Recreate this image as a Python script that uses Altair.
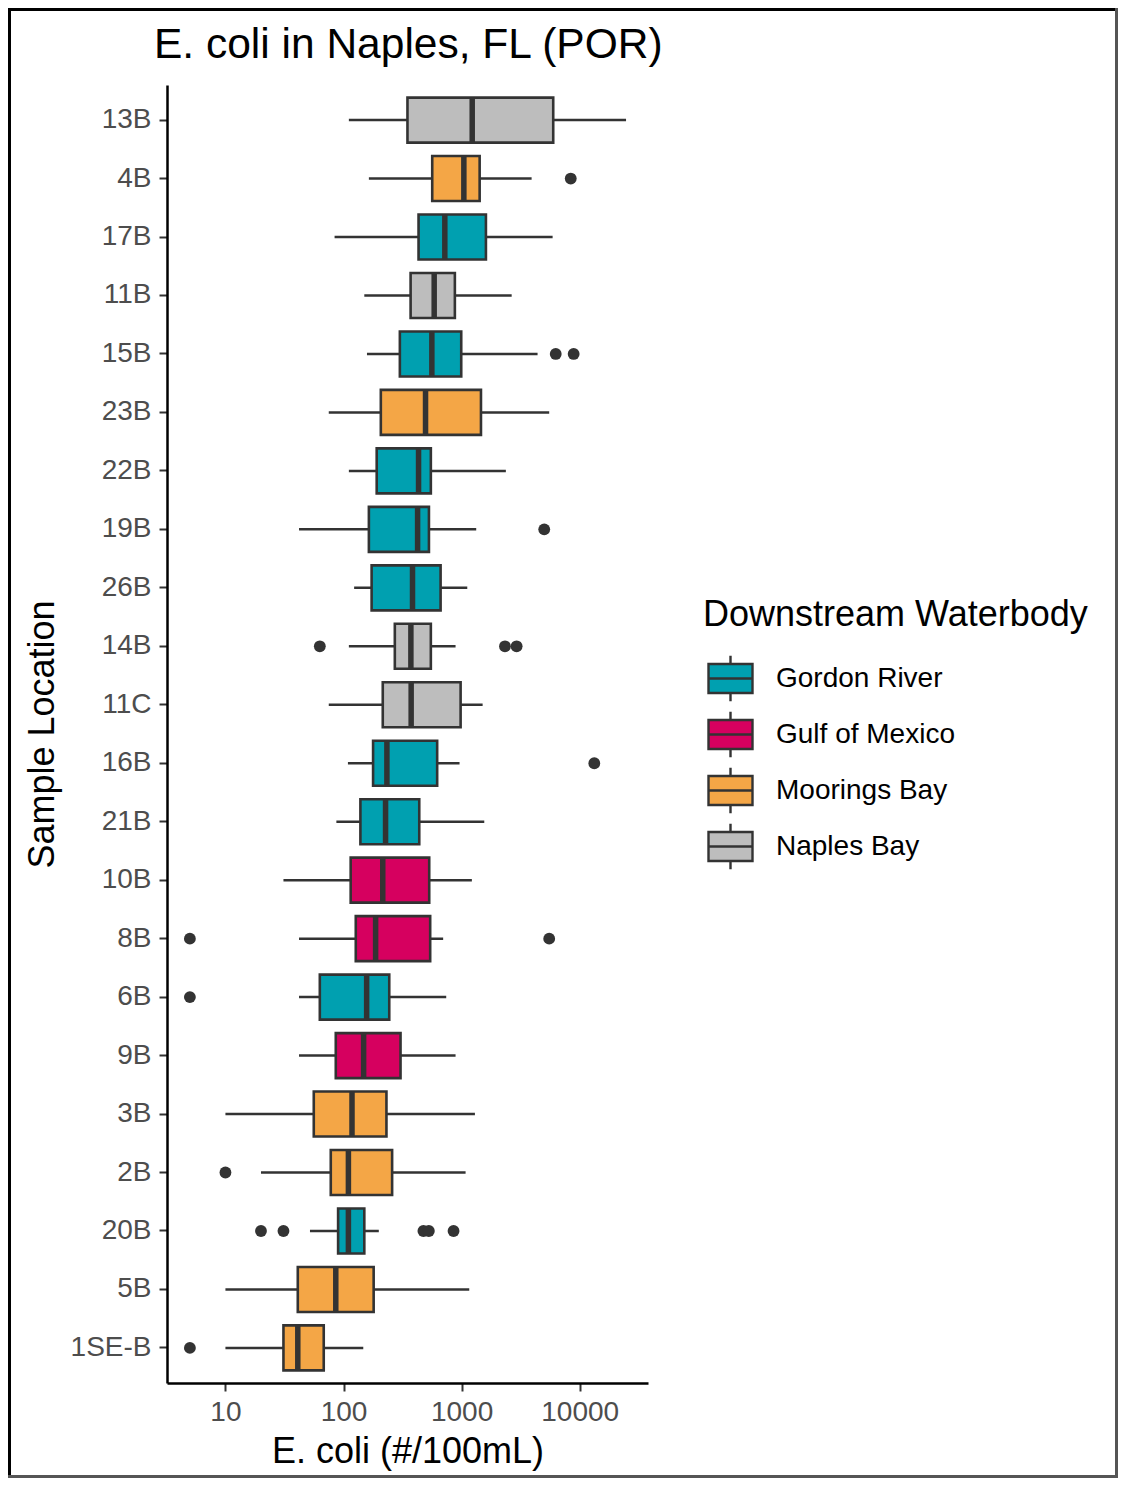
import altair as alt
import pandas as pd

# ---------------- data ----------------
locations = ["13B", "4B", "17B", "11B", "15B", "23B", "22B", "19B", "26B", "14B", "11C",
             "16B", "21B", "10B", "8B", "6B", "9B", "3B", "2B", "20B", "5B", "1SE-B"]
waterbody = ["Naples Bay", "Moorings Bay", "Gordon River", "Naples Bay", "Gordon River",
             "Moorings Bay", "Gordon River", "Gordon River", "Gordon River", "Naples Bay",
             "Naples Bay", "Gordon River", "Gordon River", "Gulf of Mexico", "Gulf of Mexico",
             "Gordon River", "Gulf of Mexico", "Moorings Bay", "Moorings Bay", "Gordon River",
             "Moorings Bay", "Moorings Bay"]
whisker_low = [111, 164, 84, 150, 158, 75, 111, 42, 123, 111, 75,
               109, 87, 31, 42, 42, 42, 10, 20, 52, 10, 10]
q1 = [348, 564, 432, 370, 300, 207, 191, 164, 173, 272, 215,
      178, 139, 115, 127, 63, 86, 56, 78, 90, 41, 31]
median = [1230, 1045, 721, 586, 560, 495, 432, 424, 384, 372, 374,
          233, 227, 215, 187, 157, 148, 118, 110, 110, 86, 41]
q3 = [5970, 1422, 1607, 877, 993, 1459, 549, 529, 664, 549, 981,
      621, 438, 532, 542, 244, 304, 231, 258, 150, 180, 68]
whisker_high = [24700, 3917, 5900, 2655, 4400, 5520, 2371, 1330, 1117, 889, 1507,
                961, 1556, 1222, 698, 741, 889, 1297, 1081, 199, 1161, 147]

outlier_loc = ["4B", "15B", "15B", "19B", "14B", "14B", "14B", "16B", "8B", "8B", "6B",
               "2B", "20B", "20B", "20B", "20B", "20B", "1SE-B"]
outlier_val = [8400, 6270, 8890, 5010, 63, 2330, 2924, 13300, 5, 5520, 5,
               10, 20, 31, 475, 528, 855, 5]

categories = ["Gordon River", "Gulf of Mexico", "Moorings Bay", "Naples Bay"]
palette = ["#00A0B0", "#D6005F", "#F4A646", "#BDBDBD"]
x_ticks = [10, 100, 1000, 10000]

box = pd.DataFrame({"loc": locations, "wb": waterbody, "lo": whisker_low, "q1": q1,
                    "med": median, "q3": q3, "hi": whisker_high})
out = pd.DataFrame({"loc": outlier_loc, "val": outlier_val})

# ---------------- layout ----------------
W, H = 481, 1298
PAD = {"left": 159, "top": 77, "right": 470, "bottom": 95}
FONT = "Liberation Sans"

xscale = alt.Scale(type="log", domain=[3.2, 37900], nice=False)
yscale = alt.Scale(domain=locations, paddingInner=0, paddingOuter=0.1)

xaxis = alt.Axis(values=x_ticks, format="d", title="E. coli (#/100mL)",
                 labelPadding=7, titleX=240.5, titleY=79, titleAlign="center",
                 titleBaseline="alphabetic")
yaxis = alt.Axis(title="Sample Location", labelPadding=8, titleX=-114, titleY=649,
                 titleAlign="center", titleBaseline="alphabetic", titleAngle=270)

legend_path = "M-1,-0.66H1V0.66H-1Z M-1,0H1 M0,-0.66V-1.03 M0,0.66V1.03"

base = alt.Chart(box)

whiskers = base.mark_rule(color="#333333", strokeWidth=2.5).encode(
    y=alt.Y("loc:N", scale=yscale, axis=yaxis, sort=None),
    x=alt.X("lo:Q", scale=xscale, axis=xaxis),
    x2="hi:Q",
)

boxes = base.mark_bar(size=45, stroke="#333333", strokeWidth=2.6).encode(
    y=alt.Y("loc:N", sort=None),
    x="q1:Q",
    x2="q3:Q",
    fill=alt.Fill("wb:N", scale=alt.Scale(domain=categories, range=palette),
                  legend=alt.Legend(title="Downstream Waterbody", orient="none",
                                    legendX=536, legendY=513, padding=0,
                                    titleFontSize=36, titleFontWeight="normal",
                                    titleColor="black", titleFont=FONT, titleLimit=600,
                                    labelFontSize=28, labelColor="black", labelFont=FONT,
                                    labelLimit=500,
                                    symbolType=legend_path, symbolSize=1936,
                                    symbolStrokeColor="#333333", symbolStrokeWidth=2.4,
                                    symbolOffset=4, labelOffset=22, rowPadding=1,
                                    titlePadding=21)),
)

medians = base.mark_tick(color="#333333", thickness=5.5, size=45, opacity=1).encode(
    y=alt.Y("loc:N", sort=None),
    x="med:Q",
)

points = alt.Chart(out).mark_circle(size=140, color="#333333", opacity=1).encode(
    y=alt.Y("loc:N", sort=None),
    x="val:Q",
)

one = pd.DataFrame({"k": [0]})
frame_l = alt.Chart(one).mark_rule(color="black", strokeWidth=3).encode(
    x=alt.value(-157.5), y=alt.value(-77), y2=alt.value(1393))
frame_t = alt.Chart(one).mark_rule(color="black", strokeWidth=3).encode(
    x=alt.value(-159), x2=alt.value(951), y=alt.value(-75.5))
frame_r = alt.Chart(one).mark_rule(color="#555555", strokeWidth=3).encode(
    x=alt.value(949.5), y=alt.value(-77), y2=alt.value(1393))
frame_b = alt.Chart(one).mark_rule(color="#555555", strokeWidth=3).encode(
    x=alt.value(-159), x2=alt.value(951), y=alt.value(1391.5))

chart = alt.layer(whiskers, boxes, medians, points, frame_l, frame_t, frame_r, frame_b).properties(
    width=W, height=H,
    padding=PAD,
    autosize=alt.AutoSizeParams(type="none"),
    title=alt.Title("E. coli in Naples, FL (POR)", anchor="start", frame="group", fontSize=42.5,
                    fontWeight="normal", color="black", font=FONT, dx=-13, dy=68, offset=8),
).configure(font=FONT).configure_view(strokeWidth=0).configure_axis(
    grid=False, domainColor="black", domainWidth=2.5, tickColor="#333333", tickWidth=2,
    tickSize=8, labelColor="#4D4D4D", labelFontSize=28, labelFont=FONT,
    titleFontSize=36, titleFontWeight="normal", titleColor="black", titleFont=FONT,
)

chart.save("out.html", embed_options={"renderer": "svg", "actions": False})
